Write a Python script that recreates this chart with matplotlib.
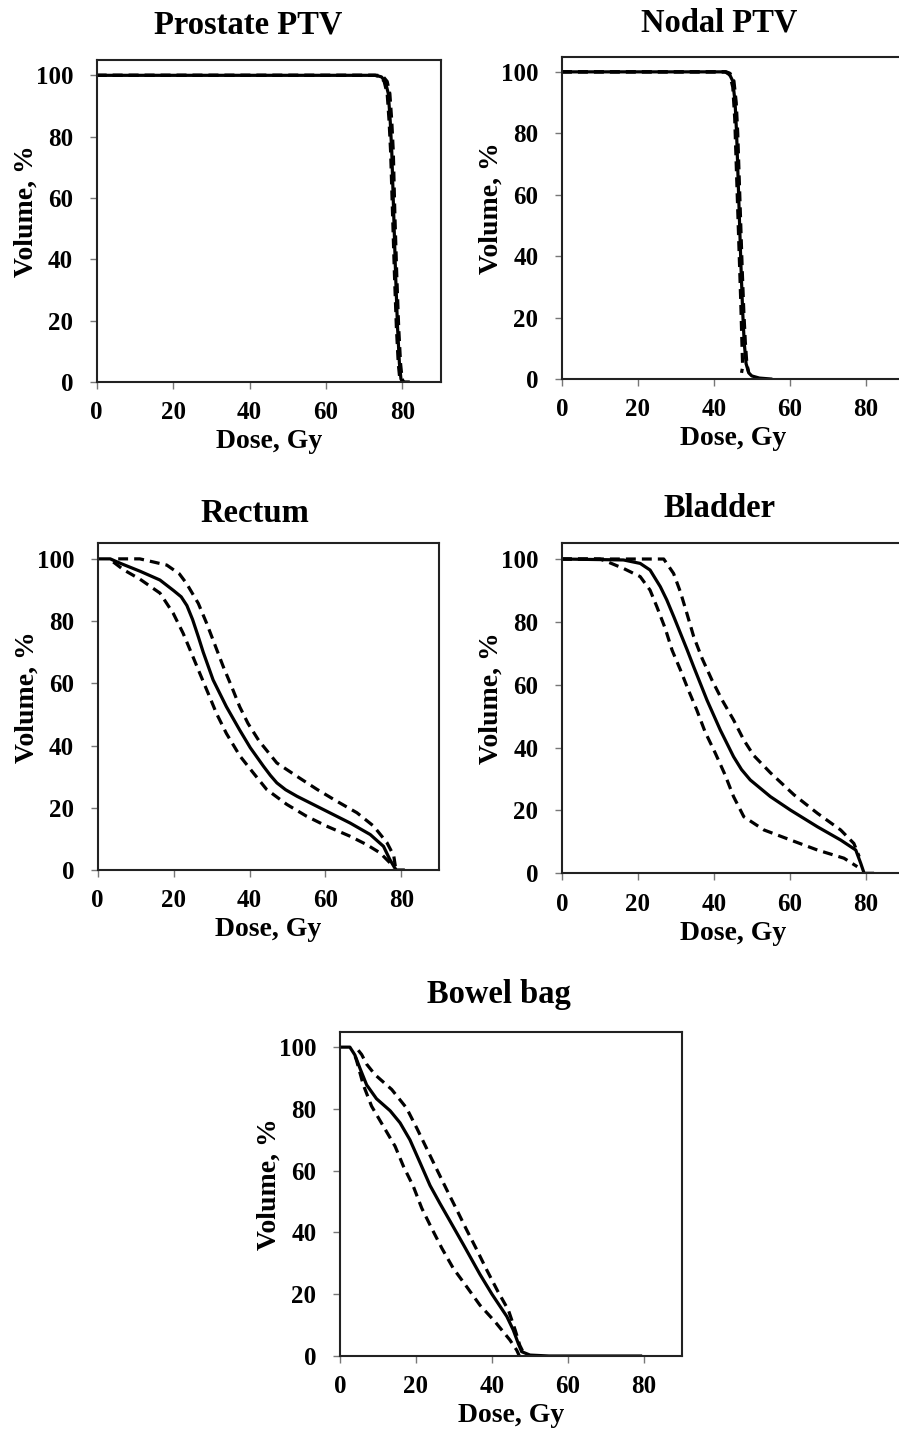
import matplotlib
matplotlib.use("Agg")
import matplotlib.pyplot as plt

plt.rcParams['font.family'] = ['Liberation Serif', 'DejaVu Serif']
plt.rcParams['font.weight'] = 'bold'

# ---------------- data (dose Gy, volume %) ----------------
titles = ["Prostate PTV", "Nodal PTV", "Rectum", "Bladder", "Bowel bag"]
xticks = [0, 20, 40, 60, 80]
yticks = [0, 20, 40, 60, 80, 100]

prostate_mean_x = [0, 73, 74.5, 75.5, 76.3, 76.8, 77.2, 77.7, 78.2, 78.7, 79.2, 79.6, 80, 81.5]
prostate_mean_y = [100, 100, 99.5, 98, 94, 85, 75, 55, 35, 18, 6, 1, 0, 0]
prostate_hi_x = [0, 73.5, 75, 76, 76.7, 77.2, 77.6, 78.0, 78.5, 79.0, 79.5, 79.9, 80.3]
prostate_hi_y = [100, 100, 99.5, 98, 94, 85, 75, 55, 35, 18, 6, 1, 0]
prostate_lo_x = [0, 72.8, 74.2, 75.2, 76.0, 76.5, 76.9, 77.4, 77.9, 78.4, 78.9, 79.3, 79.7]
prostate_lo_y = [100, 100, 99.5, 98, 94, 85, 75, 55, 35, 18, 6, 1, 0]

nodal_mean_x = [0, 43, 44, 45, 45.6, 46, 46.4, 46.8, 47.2, 47.6, 48, 48.5, 49.2, 50, 52, 55]
nodal_mean_y = [100, 100, 99.5, 97, 90, 80, 65, 50, 35, 22, 12, 5, 2, 1, 0.3, 0]
nodal_hi_x = [0, 43.3, 44.3, 45.3, 45.9, 46.3, 46.7, 47.1, 47.5, 47.9, 48.3, 48.7, 49.2]
nodal_hi_y = [100, 100, 99.5, 97, 90, 80, 65, 50, 35, 22, 12, 5, 2]
nodal_lo_x = [0, 43, 44.2, 45, 45.5, 45.9, 46.3, 46.7, 47.1, 47.4, 47.6, 47.3]
nodal_lo_y = [100, 100, 99, 95, 85, 70, 55, 40, 25, 12, 4, 2]

rectum_mean_x = [0, 3.3, 5.9, 11.2, 16.4, 20.0, 22.0, 23.5, 25.0, 26.5, 27.8, 30.4, 33.9, 37.4, 40.2, 43.7, 45.5, 47.2, 49.5, 52.5, 59.5, 66.5, 71.8, 75.3, 77.0, 78.3, 78.7, 80.5]
rectum_mean_y = [100, 100, 98.6, 96.0, 93.2, 89.8, 87.8, 85.0, 80.5, 75.0, 70.0, 61.1, 52.5, 45.0, 39.3, 33.3, 30.4, 28.0, 25.8, 23.7, 19.4, 15.1, 11.4, 7.6, 3.3, 0.6, 0, 0]
rectum_hi_x = [5.4, 11.1, 18.2, 21.5, 23.4, 26.5, 28.7, 30.9, 33.1, 35.3, 37.4, 39.6, 42.5, 47.2, 52.5, 57.8, 63.0, 68.3, 72.7, 76.2, 78.0, 78.5]
rectum_hi_y = [100, 100, 98, 95.2, 92.1, 85.7, 79.3, 72.3, 65.3, 58.9, 52.5, 47.1, 41.5, 34.4, 30.1, 25.9, 22.1, 18.4, 14.1, 8.8, 4.6, 0.5]
rectum_lo_x = [4.1, 6.8, 11.1, 16.4, 19.9, 22.5, 24.7, 26.9, 29.1, 31.3, 33.9, 37.5, 41.0, 44.5, 49.8, 55.0, 60.3, 66.4, 70.8, 74.4, 77.0, 78.0]
rectum_lo_y = [99, 96.5, 93.5, 89, 82.5, 76.1, 69.7, 63.2, 56.8, 50.3, 43.9, 36.6, 31.2, 25.9, 21.1, 17.3, 14.1, 10.9, 8.2, 5.5, 2.3, 0.8]

bladder_mean_x = [0, 16.2, 20.6, 23.2, 25.9, 27.6, 29.5, 31.2, 33.0, 34.7, 38.2, 41.7, 45.2, 47.3, 49.6, 54.9, 60.2, 67.3, 73.4, 77.4, 78.7, 79.6, 81.8]
bladder_mean_y = [100, 99.7, 98.6, 96.5, 91.2, 87.0, 81.5, 76.4, 71.0, 65.7, 55.1, 45.6, 37.1, 33.0, 29.7, 24.4, 20.1, 14.8, 10.6, 7.4, 3.2, 0, 0]
bladder_hi_x = [0, 26.8, 29.4, 31.2, 32.9, 34.7, 36.9, 39.5, 42.2, 45.2, 47.9, 50.5, 54.9, 61.1, 67.3, 73.4, 76.9, 78.3]
bladder_hi_y = [100, 100, 95.4, 89.5, 82.7, 75.3, 68.4, 61.5, 55.1, 48.8, 42.4, 37.5, 32.0, 25.0, 19.1, 13.8, 9.5, 5.3]
bladder_lo_x = [0, 10, 11.8, 16.2, 20.6, 23.2, 25.0, 27.2, 29.0, 31.2, 33.3, 35.5, 37.7, 40.4, 42.9, 45.2, 47.9, 53.2, 60.2, 67.3, 74.3, 77.8]
bladder_lo_y = [100, 100, 99.2, 97, 94.4, 90.1, 84.8, 77.9, 71.0, 64.7, 58.3, 52.0, 45.0, 38.2, 31.5, 24.4, 18.0, 13.8, 10.6, 7.4, 4.8, 2.1]

bowel_mean_x = [0, 2.6, 3.9, 5.3, 7.0, 9.6, 13.2, 15.8, 18.4, 21.1, 23.7, 26.3, 28.9, 32.5, 36.8, 40.0, 43.9, 45.6, 46.9, 47.8, 50.0, 55.0, 79.1]
bowel_mean_y = [100, 100, 97.5, 93.0, 87.8, 83.3, 79.4, 75.5, 70.0, 62.5, 55.2, 49.4, 43.8, 36.0, 26.5, 20.0, 12.8, 8.4, 4.1, 1.4, 0.3, 0, 0]
bowel_hi_x = [4.8, 5.7, 7.0, 9.2, 13.6, 17.5, 20.2, 22.8, 25.4, 28.1, 30.7, 33.3, 36.0, 38.6, 41.5, 44.3, 46.1, 47.3, 48.5]
bowel_hi_y = [99.0, 97.6, 94.5, 91.1, 86.3, 80.3, 73.8, 67.2, 60.6, 53.8, 47.4, 40.9, 34.4, 27.9, 21.0, 14.9, 8.4, 3.5, 0.5]
bowel_lo_x = [4.0, 4.4, 6.1, 8.3, 11.4, 14.5, 16.7, 19.3, 21.5, 24.1, 26.8, 29.8, 33.3, 36.8, 40.8, 44.7, 46.5, 47.2]
bowel_lo_y = [97.0, 95.5, 87.9, 80.9, 74.4, 67.9, 61.4, 54.9, 47.9, 41.4, 34.9, 28.4, 22.5, 16.5, 11.1, 5.2, 1.9, 0]

panels = [
    (prostate_mean_x, prostate_mean_y, prostate_hi_x, prostate_hi_y, prostate_lo_x, prostate_lo_y),
    (nodal_mean_x, nodal_mean_y, nodal_hi_x, nodal_hi_y, nodal_lo_x, nodal_lo_y),
    (rectum_mean_x, rectum_mean_y, rectum_hi_x, rectum_hi_y, rectum_lo_x, rectum_lo_y),
    (bladder_mean_x, bladder_mean_y, bladder_hi_x, bladder_hi_y, bladder_lo_x, bladder_lo_y),
    (bowel_mean_x, bowel_mean_y, bowel_hi_x, bowel_hi_y, bowel_lo_x, bowel_lo_y),
]

# ---------------- layout (pixels) ----------------
W, H = 899, 1429
fig = plt.figure(figsize=(W / 100, H / 100), dpi=100)

# left, top, right, bottom in pixel coords
boxes = [
    (96.7, 60, 440.7, 382),
    (562, 56.5, 903.6, 379),
    (97.7, 543.3, 439.3, 870),
    (562, 543.3, 903.6, 873.3),
    (340, 1031.7, 682, 1356),
]
title_pos = [(248, 34), (719, 31.5), (255, 522), (720, 517), (499, 1003)]
DASH = (0, (3.1, 1.9))

for i, (box, data) in enumerate(zip(boxes, panels)):
    l, t, r, b = box
    wpx, hpx = r - l, b - t
    ax = fig.add_axes([l / W, 1 - b / H, wpx / W, hpx / H])
    mx, my, hx, hy, lx, ly = data
    ax.plot(mx, my, color='black', lw=2.3, solid_joinstyle='round')
    ax.plot(hx, hy, color='black', lw=2.3, linestyle=DASH)
    ax.plot(lx, ly, color='black', lw=2.3, linestyle=DASH)
    ax.set_xlim(0, 90)
    ax.set_ylim(0, 105)
    ax.set_xticks(xticks)
    ax.set_yticks(yticks)
    ax.tick_params(axis='both', direction='out', length=5, width=1, color='#777777',
                   labelsize=18)
    ax.tick_params(axis='y', pad=12)
    ax.tick_params(axis='x', pad=9)
    for lab in ax.get_xticklabels() + ax.get_yticklabels():
        lab.set_fontweight('bold')
    for s in ax.spines.values():
        s.set_linewidth(1.5)
        s.set_color('#222222')
    ax.set_xlabel('Dose, Gy', fontsize=20, fontweight='bold', labelpad=3.5)
    ax.set_ylabel('Volume, %', fontsize=20, fontweight='bold')
    ax.yaxis.set_label_coords(-58.0 / wpx, 0.5 + 10.0 / hpx)
    tx, ty = title_pos[i]
    fig.text(tx / W, 1 - ty / H, titles[i], fontsize=23.5, fontweight='bold',
             ha='center', va='baseline')

fig.savefig('out.png', dpi=100)
